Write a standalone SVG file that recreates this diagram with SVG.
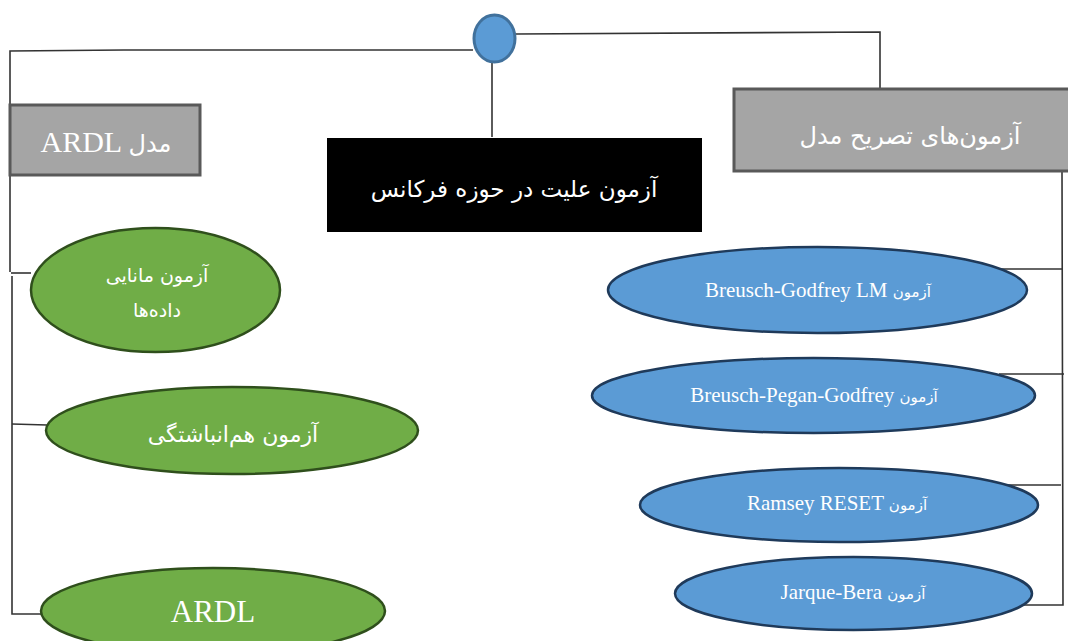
<svg xmlns="http://www.w3.org/2000/svg" width="1068" height="641" viewBox="0 0 1068 641">
<style>
.ln{fill:none;stroke:#333;stroke-width:1.6}
.gbox{fill:#A5A5A5;stroke:#595959;stroke-width:3}
.blue{fill:#5B9BD5;stroke:#1F3A5A;stroke-width:2.5}
.green{fill:#70AD47;stroke:#2F4F1C;stroke-width:2.5}
.lat{font-family:"Liberation Serif","DejaVu Sans",serif;fill:#fff}
.fa{font-family:"DejaVu Sans","Noto Sans",sans-serif;fill:#fff}
</style>
<rect width="1068" height="641" fill="#fff"/>
<g id="connectors">
<polyline class="ln" points="473,50 124,50 10,51 10,272"/>
<polyline class="ln" points="11,273 31,273"/>
<polyline class="ln" points="12,276 12,614 41,614"/>
<line class="ln" x1="12" y1="424" x2="47" y2="425"/>
<line class="ln" x1="492" y1="63" x2="492" y2="137"/>
<polyline class="ln" points="516,34 880,32 880,88"/>
<polyline class="ln" points="1062,171 1063,605 1020,605"/>
<line class="ln" x1="1001" y1="269" x2="1062" y2="269"/>
<line class="ln" x1="999" y1="374" x2="1064" y2="374"/>
<line class="ln" x1="1007" y1="485" x2="1061" y2="485"/>
</g>
<g id="hub"><ellipse cx="494.5" cy="38.5" rx="20.5" ry="23.5" fill="#5B9BD5" stroke="#41719C" stroke-width="3"/></g>
<g id="ardl-model">
<rect class="gbox" x="10" y="105" width="190" height="70"/>
<text x="106" y="152" text-anchor="middle"><tspan class="lat" font-size="30">ARDL </tspan><tspan class="fa" font-size="24">مدل</tspan></text>
</g>
<g id="causality">
<rect x="327" y="138" width="375" height="94" fill="#000"/>
<text class="fa" x="514" y="197" font-size="23" text-anchor="middle">آزمون علیت در حوزه فرکانس</text>
</g>
<g id="spec-tests">
<rect class="gbox" x="734" y="89" width="340" height="82"/>
<text class="fa" x="910" y="144" font-size="24" text-anchor="middle">آزمون‌های تصریح مدل</text>
</g>
<g id="stationarity">
<ellipse class="green" cx="155.5" cy="290" rx="124.5" ry="62"/>
<text class="fa" x="157" y="282" font-size="19" text-anchor="middle">آزمون مانایی</text>
<text class="fa" x="157" y="317" font-size="19" text-anchor="middle">داده‌ها</text>
</g>
<g id="cointegration">
<ellipse class="green" cx="232" cy="430.5" rx="186" ry="43.5"/>
<text class="fa" x="233" y="442" font-size="22" text-anchor="middle">آزمون هم‌انباشتگی</text>
</g>
<g id="ardl">
<ellipse class="green" cx="213" cy="611" rx="172" ry="43"/>
<text class="lat" x="213" y="622" font-size="31" text-anchor="middle">ARDL</text>
</g>
<g id="bg-lm">
<ellipse class="blue" cx="817.5" cy="290" rx="209.5" ry="43"/>
<text x="818" y="297" text-anchor="middle"><tspan class="lat" font-size="21">Breusch-Godfrey LM </tspan><tspan class="fa" font-size="15">آزمون</tspan></text>
</g>
<g id="bpg">
<ellipse class="blue" cx="813.5" cy="395.5" rx="221.5" ry="37.5"/>
<text x="814" y="402" text-anchor="middle"><tspan class="lat" font-size="21">Breusch-Pegan-Godfrey </tspan><tspan class="fa" font-size="15">آزمون</tspan></text>
</g>
<g id="reset">
<ellipse class="blue" cx="839" cy="505" rx="199" ry="37"/>
<text x="837" y="510" text-anchor="middle"><tspan class="lat" font-size="21">Ramsey RESET </tspan><tspan class="fa" font-size="15">آزمون</tspan></text>
</g>
<g id="jb">
<ellipse class="blue" cx="853.5" cy="593.5" rx="178.5" ry="36.5"/>
<text x="853" y="599" text-anchor="middle"><tspan class="lat" font-size="21">Jarque-Bera </tspan><tspan class="fa" font-size="15">آزمون</tspan></text>
</g>
</svg>
